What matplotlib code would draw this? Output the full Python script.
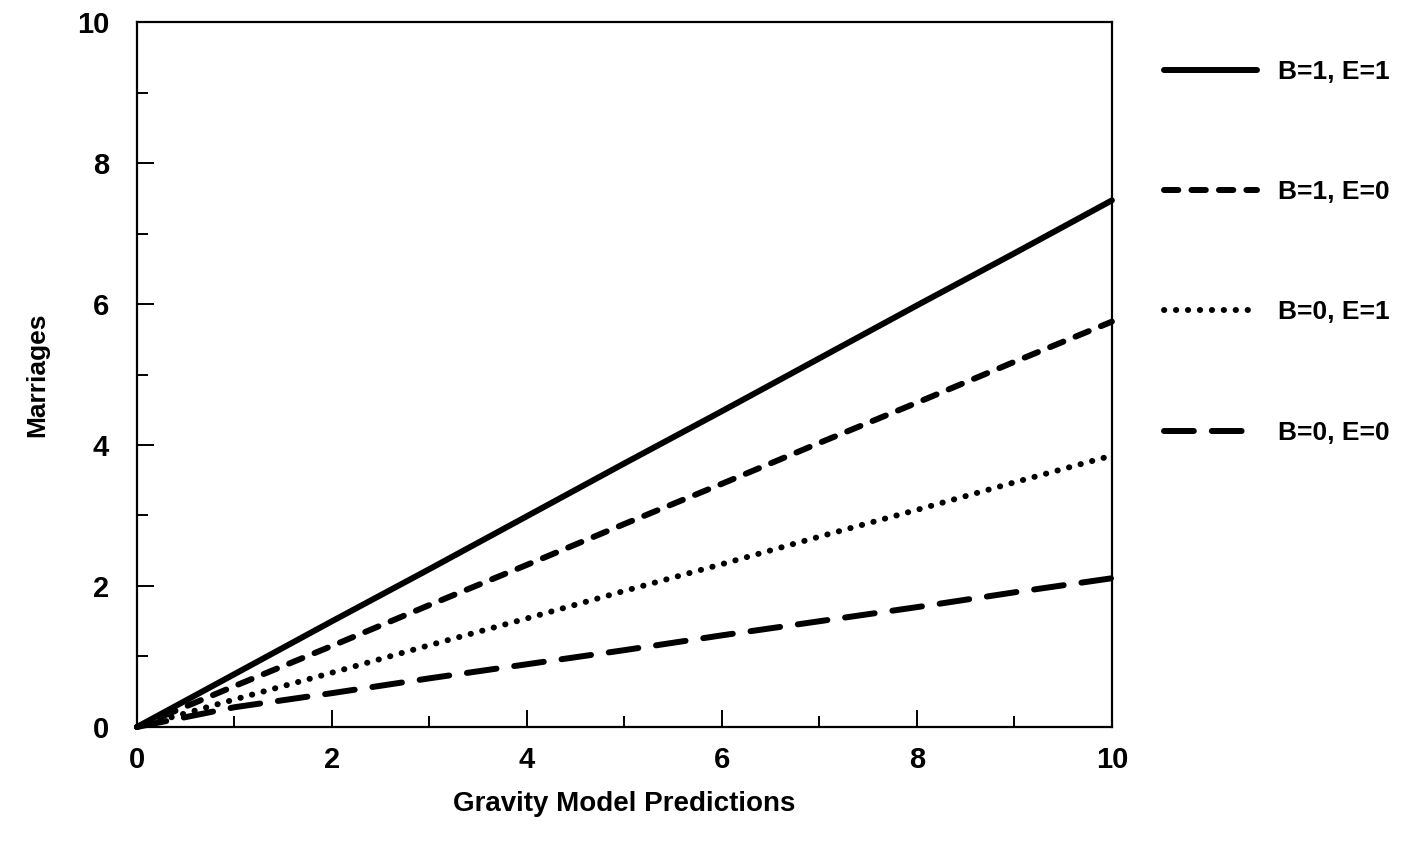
import matplotlib
matplotlib.use("Agg")
import matplotlib.pyplot as plt
from matplotlib.ticker import MultipleLocator

plt.rcParams["font.family"] = ["Liberation Sans", "DejaVu Sans"]
plt.rcParams["font.weight"] = "bold"
plt.rcParams["axes.labelweight"] = "bold"

# Valores (x = 0..10)
previsoes = [0, 1, 2, 3, 4, 5, 6, 7, 8, 9, 10]
b1_e1 = [0, 0.75, 1.50, 2.24, 2.99, 3.74, 4.48, 5.23, 5.98, 6.72, 7.47]
b1_e0 = [0, 0.58, 1.15, 1.73, 2.30, 2.88, 3.45, 4.03, 4.60, 5.18, 5.75]
b0_e1 = [0, 0.39, 0.77, 1.16, 1.54, 1.93, 2.31, 2.70, 3.08, 3.47, 3.85]
b0_e0 = [0, 0.28, 0.48, 0.69, 0.89, 1.09, 1.30, 1.50, 1.70, 1.91, 2.11]

rotulos = ["B=1, E=1", "B=1, E=0", "B=0, E=1", "B=0, E=0"]

fig = plt.figure(figsize=(14.15, 8.47), dpi=100)
ax = fig.add_axes([0.0968, 0.1417, 0.6890, 0.8323])

lw = 4.3
ax.plot(previsoes, b1_e1, color="black", linewidth=lw, solid_capstyle="round",
        clip_on=False, label=rotulos[0])
ax.plot(previsoes, b1_e0, color="black", linewidth=lw, dashes=(2.4, 2.2),
        dash_capstyle="round", clip_on=False, label=rotulos[1])
ax.plot(previsoes, b0_e1, color="black", linewidth=lw, dashes=(0.05, 1.95),
        dash_capstyle="round", clip_on=False, label=rotulos[2])
ax.plot(previsoes, b0_e0, color="black", linewidth=lw, dashes=(5.0, 3.0),
        dash_capstyle="round", clip_on=False, label=rotulos[3])

ax.set_xlim(0, 10)
ax.set_ylim(0, 10)
ax.xaxis.set_major_locator(MultipleLocator(2))
ax.xaxis.set_minor_locator(MultipleLocator(1))
ax.yaxis.set_major_locator(MultipleLocator(2))
ax.yaxis.set_minor_locator(MultipleLocator(1))

for s in ax.spines.values():
    s.set_linewidth(1.6)

ax.tick_params(which="both", direction="in", top=False, right=False, width=1.4)
ax.tick_params(which="major", length=12)
ax.tick_params(which="minor", length=8)
ax.tick_params(axis="x", which="major", labelsize=21, pad=14)
ax.tick_params(axis="y", which="major", labelsize=21, pad=20)

ax.set_xlabel("Gravity Model Predictions", fontsize=20, fontweight="bold", labelpad=12)
ax.set_ylabel("Marriages", fontsize=19, fontweight="bold", labelpad=20)

ax.legend(loc="upper left", bbox_to_anchor=(0.8134, 0.945),
          bbox_transform=fig.transFigure, frameon=False, fontsize=19,
          handlelength=3.5, handletextpad=0.8, labelspacing=3.65, borderpad=0)

plt.savefig("out.png", dpi=100)
